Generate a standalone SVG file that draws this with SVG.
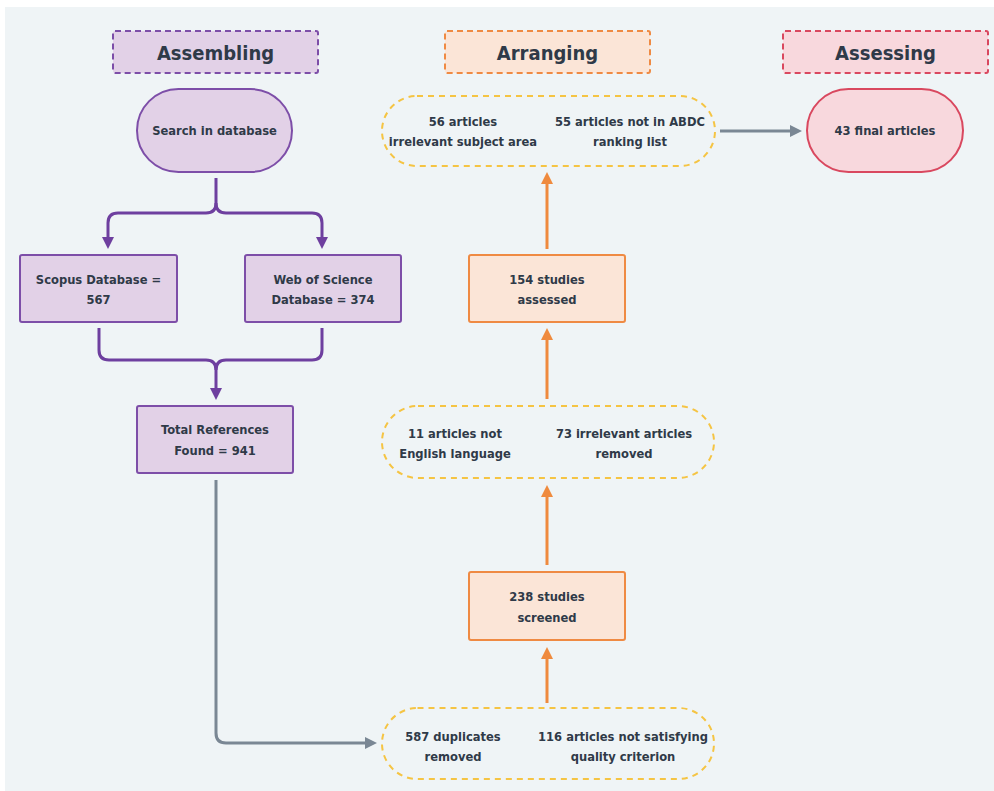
<svg xmlns="http://www.w3.org/2000/svg" width="994" height="791" viewBox="0 0 994 791">
<defs>
<style>
text{font-family:"Liberation Sans Narrow","DejaVu Sans Condensed","Liberation Sans",sans-serif;font-weight:bold;fill:#2f3a48;text-anchor:middle;font-size:12.8px}
.hdr{font-size:20px}
.pbox{fill:#e2d1e7;stroke:#7d4ea8;stroke-width:2}
.obox{fill:#fbe5d7;stroke:#ef8a43;stroke-width:2}
.rbox{fill:#f8d8dd;stroke:#d9485f;stroke-width:2}
.dash{stroke-dasharray:6 4}
.oval{fill:none;stroke:#f5c443;stroke-width:2;stroke-dasharray:6 5}
.cp{fill:none;stroke:#6e3f9f;stroke-width:3}
.cg{fill:none;stroke:#7a8794;stroke-width:3}
.co{fill:none;stroke:#ef8a3e;stroke-width:3}
</style>
<marker id="ap" markerUnits="userSpaceOnUse" markerWidth="12" markerHeight="12" viewBox="0 0 10 10" refX="5" refY="5" orient="auto"><path d="M0,0 L10,5 L0,10 z" fill="#6e3f9f"/></marker>
<marker id="ag" markerUnits="userSpaceOnUse" markerWidth="12" markerHeight="12" viewBox="0 0 10 10" refX="5" refY="5" orient="auto"><path d="M0,0 L10,5 L0,10 z" fill="#7a8794"/></marker>
<marker id="ao" markerUnits="userSpaceOnUse" markerWidth="12" markerHeight="12" viewBox="0 0 10 10" refX="5" refY="5" orient="auto"><path d="M0,0 L10,5 L0,10 z" fill="#ef8a3e"/></marker>
</defs>
<rect x="0" y="0" width="994" height="791" fill="#ffffff"/>
<rect x="5" y="7" width="989" height="784" fill="#eff4f6"/>

<g id="hdr-assembling"><rect class="pbox dash" x="113" y="31" width="205" height="42" rx="2"/><text class="hdr" x="215.5" y="60">Assembling</text></g>
<g id="hdr-arranging"><rect class="obox dash" x="445" y="31" width="205" height="42" rx="2"/><text class="hdr" x="547.5" y="60">Arranging</text></g>
<g id="hdr-assessing"><rect class="rbox dash" x="783" y="31" width="205" height="42" rx="2"/><text class="hdr" x="885.5" y="60">Assessing</text></g>

<g id="connectors">
<path class="cp" d="M216,178 V203 Q216,213 206,213 H118 Q108,213 108,223 V243" marker-end="url(#ap)"/>
<path class="cp" d="M216,203 Q216,213 226,213 H312 Q322,213 322,223 V243" marker-end="url(#ap)"/>
<path class="cp" d="M99,328 V350 Q99,360 109,360 H206 Q216,360 216,370 V394" marker-end="url(#ap)"/>
<path class="cp" d="M322,328 V350 Q322,360 312,360 H226 Q216,360 216,370"/>
<path class="cg" d="M216,480 V733 Q216,743 226,743 H371" marker-end="url(#ag)"/>
<path class="cg" d="M720,131 H796" marker-end="url(#ag)"/>
<path class="co" d="M547,703 V653" marker-end="url(#ao)"/>
<path class="co" d="M547,565 V491" marker-end="url(#ao)"/>
<path class="co" d="M547,399 V334" marker-end="url(#ao)"/>
<path class="co" d="M547,249 V178" marker-end="url(#ao)"/>
</g>

<g id="search"><rect class="pbox" x="137" y="89" width="155" height="83" rx="41.5"/><text x="214.5" y="135">Search in database</text></g>
<g id="scopus"><rect class="pbox" x="20" y="255" width="157" height="67" rx="2"/><text x="98.5" y="284">Scopus Database =</text><text x="98.5" y="304">567</text></g>
<g id="wos"><rect class="pbox" x="245" y="255" width="156" height="67" rx="2"/><text x="323" y="284">Web of Science</text><text x="323" y="304">Database = 374</text></g>
<g id="total"><rect class="pbox" x="137" y="406" width="156" height="67" rx="2"/><text x="215" y="434">Total References</text><text x="215" y="455">Found = 941</text></g>

<g id="excl-3"><rect class="oval" x="382" y="96" width="333" height="70" rx="35"/><text x="463" y="126">56 articles</text><text x="463" y="146">irrelevant subject area</text><text x="630" y="126">55 articles not in ABDC</text><text x="630" y="146">ranking list</text></g>
<g id="final"><rect class="rbox" x="807" y="89" width="156" height="83" rx="41.5"/><text x="885" y="135">43 final articles</text></g>
<g id="assessed"><rect class="obox" x="469" y="255" width="156" height="67" rx="2"/><text x="547" y="284">154 studies</text><text x="547" y="304">assessed</text></g>
<g id="excl-2"><rect class="oval" x="382" y="406" width="332" height="72" rx="36"/><text x="455" y="438">11 articles not</text><text x="455" y="458">English language</text><text x="624" y="438">73 irrelevant articles</text><text x="624" y="458">removed</text></g>
<g id="screened"><rect class="obox" x="469" y="572" width="156" height="68" rx="2"/><text x="547" y="601">238 studies</text><text x="547" y="622">screened</text></g>
<g id="excl-1"><rect class="oval" x="382" y="708" width="332" height="71" rx="35.5"/><text x="453" y="741">587 duplicates</text><text x="453" y="761">removed</text><text x="623" y="741">116 articles not satisfying</text><text x="623" y="761">quality criterion</text></g>
</svg>
